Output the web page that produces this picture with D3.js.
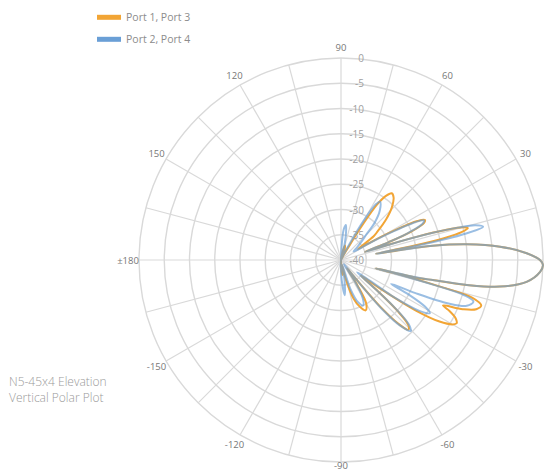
<!DOCTYPE html>
<html>
<head>
<meta charset="utf-8">
<script src="https://cdn.jsdelivr.net/npm/d3@7/dist/d3.min.js"></script>
<style>
  html, body { margin: 0; padding: 0; background: #fff; }
  svg { display: block; font-family: "Open Sans", "Noto Sans", sans-serif; }
</style>
</head>
<body>
<svg id="chart" width="546" height="472"></svg>
<script>
// Elevation pattern, angle in degrees (0 = boresight, +90 = up) and gain in dB
const seriesNames = ["Port 1, Port 3", "Port 2, Port 4"];
const seriesColors = ["#f2a535", "#6a9fd6"];

const port13 = [
  [-180, -45], [-150, -44], [-120, -43], [-100, -41], [-92, -40], [-88, -38],
  [-84, -37], [-80, -39], [-76, -36], [-72, -32], [-68, -30], [-64, -28.9],
  [-60, -30], [-57, -34], [-54, -38], [-52, -36], [-50, -28], [-48, -23],
  [-46, -20.8], [-44, -21.5], [-42, -25], [-40, -31], [-38, -35], [-36, -30],
  [-34, -22], [-32, -17], [-30, -14.5], [-28.7, -13.9], [-27, -14.5], [-25, -16.5],
  [-24, -17.9], [-22, -14], [-20, -11.5], [-18, -10.8], [-16, -13], [-15, -20],
  [-14, -28], [-13.5, -33], [-13, -24], [-12.3, -21.4], [-11.2, -14.6], [-9.5, -8.1],
  [-6.7, -3], [-3.4, -0.5], [-1.4, 0], [0, -0.6], [2.1, -3.2], [4.8, -8.4],
  [7.1, -14.9], [8.8, -21.6], [9.6, -28], [10.2, -33], [11, -26], [12, -19],
  [13, -15.5], [14.1, -14.1], [15, -15], [16, -18.5], [17, -24], [18, -31],
  [19, -35], [20.5, -30], [22, -25], [24, -22], [25.5, -21.6], [27, -23],
  [29, -28], [31, -33], [33, -36], [36, -32], [38, -30.8], [42, -28],
  [46, -25.5], [50, -23.8], [52.8, -23.4], [55, -24.5], [57, -27], [58.5, -32],
  [60, -37], [63, -39], [66, -40], [70, -38], [75, -37], [80, -38.5],
  [85, -40], [90, -42], [120, -44], [150, -45]
];

const port24 = [
  [-180, -45], [-150, -44], [-120, -42], [-100, -41], [-92, -39], [-88, -36],
  [-84, -33], [-80, -36], [-76, -39], [-72, -34], [-68, -31], [-64, -30],
  [-60, -31.5], [-57, -35], [-54, -39], [-52, -36], [-50, -27], [-48, -22.5],
  [-45.5, -20.3], [-43.5, -21.5], [-41.5, -26], [-39.5, -33], [-37, -36], [-35, -27],
  [-33, -21.5], [-30.9, -19.5], [-29, -21], [-27, -25], [-25.5, -29], [-24, -24],
  [-22, -17], [-20, -13.5], [-17.5, -12.5], [-16, -14.5], [-15, -21], [-14, -28.4],
  [-13.5, -33], [-13, -25], [-12.3, -21.4], [-11.2, -14.6], [-9.5, -8.1],
  [-6.7, -3], [-3.4, -0.5], [-1.4, 0], [0, -0.6], [2.1, -3.2], [4.8, -8.4],
  [7.1, -14.9], [8.8, -21.6], [9.7, -30.6], [10.3, -33], [11, -22], [12, -14.5],
  [13.2, -11.1], [14.5, -12.5], [15.5, -16], [16.5, -21], [17.5, -28], [18.5, -35],
  [20.5, -30], [22, -25.5], [24, -22.3], [25.5, -21.8], [27, -23.5], [29, -29],
  [31, -34], [34, -37], [38, -36], [42, -34.5], [45, -33], [48, -30],
  [52, -27.5], [56.2, -26.1], [58, -27], [60, -31], [62, -36], [66, -39.5],
  [71, -41], [76, -38], [79, -35], [82, -33], [85, -34], [88, -38],
  [91, -41], [120, -44], [150, -45]
];

const ringValues = [-40, -35, -30, -25, -20, -15, -10, -5, 0];
const spokeAngles = [0, 15, 30, 45, 60, 75, 90, 105, 120, 135, 150, 165, 180,
                     195, 210, 225, 240, 255, 270, 285, 300, 315, 330, 345];
const angleTicks = [30, 60, 90, 120, 150, 180, -150, -120, -90, -60, -30];
const angleTickLabels = ["30", "60", "90", "120", "150", "\u00b1180", "-150", "-120", "-90", "-60", "-30"];
const titleLines = ["N5-45x4 Elevation", "Vertical Polar Plot"];

const svg = d3.select("#chart");
const cx = 341, cy = 260, outerR = 202;

const r = d3.scaleLinear().domain([-40, 0]).range([0, outerR]).clamp(true);
// math angle (deg, counter-clockwise from east) -> d3 radial angle (rad, clockwise from north)
const toRadial = d => (90 - d) * Math.PI / 180;

const plot = svg.append("g").attr("transform", `translate(${cx},${cy})`);

// grid rings
plot.append("g").selectAll("circle")
  .data(ringValues.filter(v => v > -40))
  .join("circle")
  .attr("r", d => r(d))
  .attr("fill", "none")
  .attr("stroke", "#d9d9d9")
  .attr("stroke-width", 1.4);

// grid spokes
plot.append("g").selectAll("line")
  .data(spokeAngles)
  .join("line")
  .attr("x1", 0).attr("y1", 0)
  .attr("x2", d => outerR * Math.cos(d * Math.PI / 180))
  .attr("y2", d => -outerR * Math.sin(d * Math.PI / 180))
  .attr("stroke", "#d9d9d9")
  .attr("stroke-width", 1.2);

// pattern lines
const line = d3.lineRadial()
  .angle(d => toRadial(d[0]))
  .radius(d => r(d[1]))
  .curve(d3.curveCatmullRomClosed.alpha(0.5));

plot.append("path")
  .datum(port13)
  .attr("d", line)
  .attr("fill", "none")
  .attr("stroke", seriesColors[0])
  .attr("stroke-width", 2)
  .attr("stroke-linejoin", "round");

plot.append("path")
  .datum(port24)
  .attr("d", line)
  .attr("fill", "none")
  .attr("stroke", seriesColors[1])
  .attr("stroke-opacity", 0.68)
  .attr("stroke-width", 2)
  .attr("stroke-linejoin", "round");

// ring value labels along the 90 degree spoke
plot.append("g").selectAll("text")
  .data(ringValues)
  .join("text")
  .attr("x", 23)
  .attr("y", d => -r(d))
  .attr("text-anchor", "end")
  .attr("dominant-baseline", "central")
  .attr("font-size", 10)
  .attr("fill", "#a0a0a0")
  .text(d => d);

// angle labels (the bottom one is pulled in so it stays inside the frame)
const labelR = 213;
plot.append("g").selectAll("text")
  .data(angleTicks)
  .join("text")
  .attr("x", d => labelR * Math.cos(d * Math.PI / 180))
  .attr("y", d => Math.min(-labelR * Math.sin(d * Math.PI / 180), 205))
  .attr("text-anchor", "middle")
  .attr("dominant-baseline", "central")
  .attr("font-size", 9.5)
  .attr("fill", "#777")
  .text((d, i) => angleTickLabels[i]);

// legend
const legend = svg.append("g").attr("transform", "translate(97,0)");
seriesNames.forEach((name, i) => {
  const y = 17.3 + i * 22;
  legend.append("rect")
    .attr("x", 0).attr("y", y - 2.5)
    .attr("width", 24).attr("height", 5)
    .attr("fill", seriesColors[i]);
  legend.append("text")
    .attr("x", 29).attr("y", y)
    .attr("dominant-baseline", "central")
    .attr("font-size", 10.5)
    .attr("fill", "#8c8c8c")
    .text(name);
});

// chart title, lower left
svg.append("g").selectAll("text")
  .data(titleLines)
  .join("text")
  .attr("x", 9)
  .attr("y", (d, i) => 386 + i * 16)
  .attr("font-size", 12)
  .attr("font-weight", 300)
  .attr("fill", "#9a9a9a")
  .text(d => d);
</script>
</body>
</html>
